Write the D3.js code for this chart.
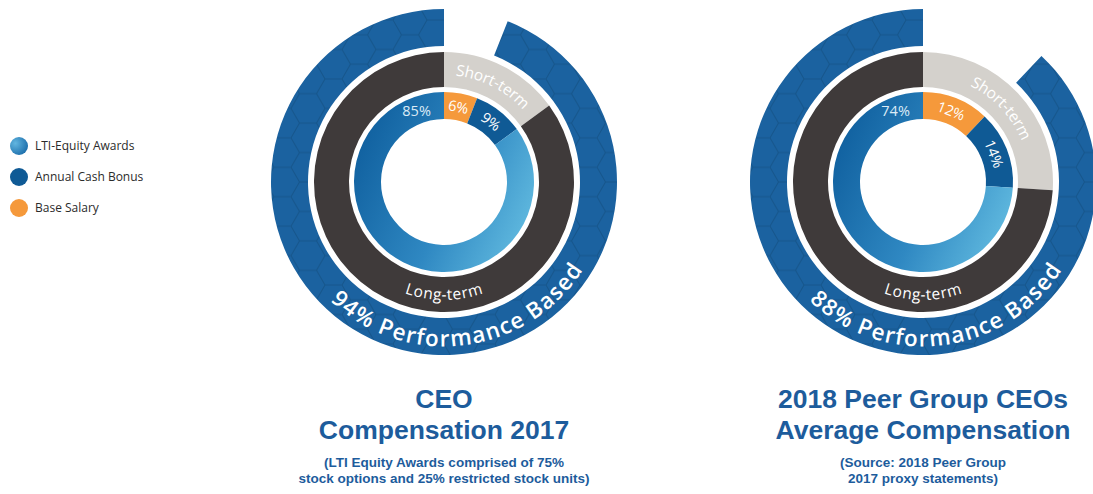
<!DOCTYPE html>
<html>
<head>
<meta charset="utf-8">
<script src="https://cdn.jsdelivr.net/npm/d3@7"></script>
<style>
    body { margin: 0; background: #fff; }
    svg { display: block; }
</style>
</head>
<body>
<div id="chart"></div>
<script>
// slices, clockwise from 12 o'clock
const categories = ["Base Salary", "Annual Cash Bonus", "LTI-Equity Awards"];
const ceoValues = [6, 9, 85];
const peerValues = [12, 14, 74];

// legend order as shown top to bottom
const legendItems = ["LTI-Equity Awards", "Annual Cash Bonus", "Base Salary"];
const termLabels = ["Short-term", "Long-term"];

const chartTitles = [
    ["CEO", "Compensation 2017"],
    ["2018 Peer Group CEOs", "Average Compensation"]
];
const chartNotes = [
    ["(LTI Equity Awards comprised of 75%", "stock options and 25% restricted stock units)"],
    ["(Source: 2018 Peer Group", "2017 proxy statements)"]
];

const width = 1093, height = 494;
const colors = {
    "Base Salary": "#f5993b",
    "Annual Cash Bonus": "#0f5a95",
    "LTI-Equity Awards": "url(#lti-grad)"
};
const titleColor = "#1d5c9c";

const svg = d3.select("#chart").append("svg")
    .attr("width", width)
    .attr("height", height);

const defs = svg.append("defs");

// hexagon texture for the outer blue band
const hr = 17, hh = Math.sqrt(3) * hr;
const hex = defs.append("pattern")
    .attr("id", "hex")
    .attr("patternUnits", "userSpaceOnUse")
    .attr("width", 3 * hr)
    .attr("height", hh);
hex.append("rect").attr("width", 3 * hr).attr("height", hh).attr("fill", "#1b62a0");
hex.append("path")
    .attr("d", `M0,${hh / 2}L${hr / 2},0L${1.5 * hr},0L${2 * hr},${hh / 2}L${1.5 * hr},${hh}L${hr / 2},${hh}Z M${2 * hr},${hh / 2}L${3 * hr},${hh / 2}`)
    .attr("fill", "none")
    .attr("stroke", "#16568c")
    .attr("stroke-width", 1.1);

// LTI ring gradient (dark on the left, light bottom right)
const ltiGrad = defs.append("linearGradient")
    .attr("id", "lti-grad")
    .attr("x1", "0%").attr("y1", "30%")
    .attr("x2", "100%").attr("y2", "75%");
ltiGrad.append("stop").attr("offset", "0%").attr("stop-color", "#10609f");
ltiGrad.append("stop").attr("offset", "55%").attr("stop-color", "#2f88c2");
ltiGrad.append("stop").attr("offset", "100%").attr("stop-color", "#62bbe0");

const legGrad = defs.append("radialGradient")
    .attr("id", "leg-grad")
    .attr("cx", "30%").attr("cy", "35%").attr("r", "75%");
legGrad.append("stop").attr("offset", "0%").attr("stop-color", "#62b6e0");
legGrad.append("stop").attr("offset", "100%").attr("stop-color", "#1c6eab");

// legend
const legend = svg.append("g").attr("transform", "translate(19,146)");
legend.selectAll("g")
    .data(legendItems)
    .enter().append("g")
    .attr("transform", (d, i) => `translate(0,${i * 31})`)
    .each(function(d) {
        const g = d3.select(this);
        g.append("circle")
            .attr("r", 9)
            .attr("fill", d === "LTI-Equity Awards" ? "url(#leg-grad)" : colors[d]);
        g.append("text")
            .attr("x", 16)
            .attr("dy", "0.35em")
            .style("font-family", "'Open Sans', sans-serif")
            .style("font-size", "12px")
            .style("fill", "#2b2b2b")
            .text(d);
    });

const rInner = [63, 90], rTerm = [95, 130], rPerf = [136, 173];
const deg = Math.PI / 180;
// d3.path angles start at 3 o'clock, chart angles at 12 o'clock
const toStd = a => a - Math.PI / 2;

function arcPath(r, a0, a1, ccw) {
    const p = d3.path();
    p.arc(0, 0, r, toStd(a0), toStd(a1), ccw);
    return p.toString();
}

function drawChart(values, idx, cx, cy) {
    const g = svg.append("g").attr("transform", `translate(${cx},${cy})`);
    const data = categories.map((c, i) => ({ key: c, value: values[i] }));
    const pie = d3.pie().sort(null).value(d => d.value);
    const slices = pie(data);

    // outer performance band: everything but base salary
    const baseEnd = slices[0].endAngle;
    g.append("path")
        .attr("d", d3.arc().innerRadius(rPerf[0]).outerRadius(rPerf[1])
            .startAngle(baseEnd).endAngle(2 * Math.PI)())
        .attr("fill", "url(#hex)");

    // short / long term ring
    const shortVal = values[0] + values[1];
    const termSlices = pie([{ key: termLabels[0], value: shortVal }, { key: termLabels[1], value: 100 - shortVal }]);
    const termArc = d3.arc().innerRadius(rTerm[0]).outerRadius(rTerm[1]);
    g.selectAll(".term")
        .data(termSlices)
        .enter().append("path")
        .attr("class", "term")
        .attr("d", termArc)
        .attr("fill", (d, i) => i === 0 ? "#d4d1cc" : "#3f3a3a");

    // inner compensation donut
    const innerArc = d3.arc().innerRadius(rInner[0]).outerRadius(rInner[1]);
    g.selectAll(".slice")
        .data(slices)
        .enter().append("path")
        .attr("class", "slice")
        .attr("d", innerArc)
        .attr("fill", d => colors[d.data.key]);

    // percent labels
    const rMid = (rInner[0] + rInner[1]) / 2;
    g.selectAll(".pct")
        .data(slices)
        .enter().append("text")
        .attr("class", "pct")
        .attr("transform", (d, i) => {
            const a = i === 2 ? d.endAngle - 21 * deg : (d.startAngle + d.endAngle) / 2;
            const x = rMid * Math.sin(a), y = -rMid * Math.cos(a);
            const rot = i === 2 ? 0 : a / deg;
            return `translate(${x},${y}) rotate(${rot})`;
        })
        .attr("text-anchor", "middle")
        .attr("dy", "0.36em")
        .style("font-family", "'Open Sans', sans-serif")
        .style("font-size", "14.5px")
        .style("fill", (d, i) => i === 2 ? "#dcebf6" : "#fff")
        .text(d => d.value + "%");

    // curved ring labels
    const rTermMid = (rTerm[0] + rTerm[1]) / 2;
    const shortEnd = termSlices[0].endAngle;
    defs.append("path").attr("id", `short-${idx}`)
        .attr("d", arcPath(rTermMid, -20 * deg, shortEnd + 20 * deg, false));
    defs.append("path").attr("id", `long-${idx}`)
        .attr("d", arcPath(rTermMid, 270 * deg, 90 * deg, true));
    defs.append("path").attr("id", `perf-${idx}`)
        .attr("d", arcPath((rPerf[0] + rPerf[1]) / 2 + 2, 275 * deg, 71 * deg, true));

    const ringText = [
        { id: `short-${idx}`, text: termLabels[0], size: 15.5, weight: 400 },
        { id: `long-${idx}`, text: termLabels[1], size: 15.5, weight: 400 },
        { id: `perf-${idx}`, text: (100 - values[0]) + "% Performance Based", size: 22.5, weight: 600 }
    ];
    ringText.forEach(t => {
        g.append("text")
            .attr("dy", "0.35em")
            .style("font-family", "'Open Sans', sans-serif")
            .style("font-size", t.size + "px")
            .style("font-weight", t.weight)
            .style("letter-spacing", t.weight > 400 ? "0.7px" : "0.2px")
            .style("fill", "#fff")
            .append("textPath")
            .attr("href", "#" + t.id)
            .attr("startOffset", "50%")
            .attr("text-anchor", "middle")
            .text(t.text);
    });

    // titles below
    const titles = svg.append("g")
        .attr("transform", `translate(${cx},0)`)
        .attr("text-anchor", "middle")
        .style("font-family", "'Liberation Sans', Arial, sans-serif")
        .style("font-weight", "bold")
        .style("fill", titleColor);
    titles.selectAll(".title")
        .data(chartTitles[idx])
        .enter().append("text")
        .attr("class", "title")
        .attr("y", (d, i) => 408 + i * 31)
        .style("font-size", "26.5px")
        .text(d => d);
    titles.selectAll(".note")
        .data(chartNotes[idx])
        .enter().append("text")
        .attr("class", "note")
        .attr("y", (d, i) => 467 + i * 16)
        .style("font-size", "13.5px")
        .text(d => d);
}

drawChart(ceoValues, 0, 444, 182);
drawChart(peerValues, 1, 923, 182);
</script>
</body>
</html>
